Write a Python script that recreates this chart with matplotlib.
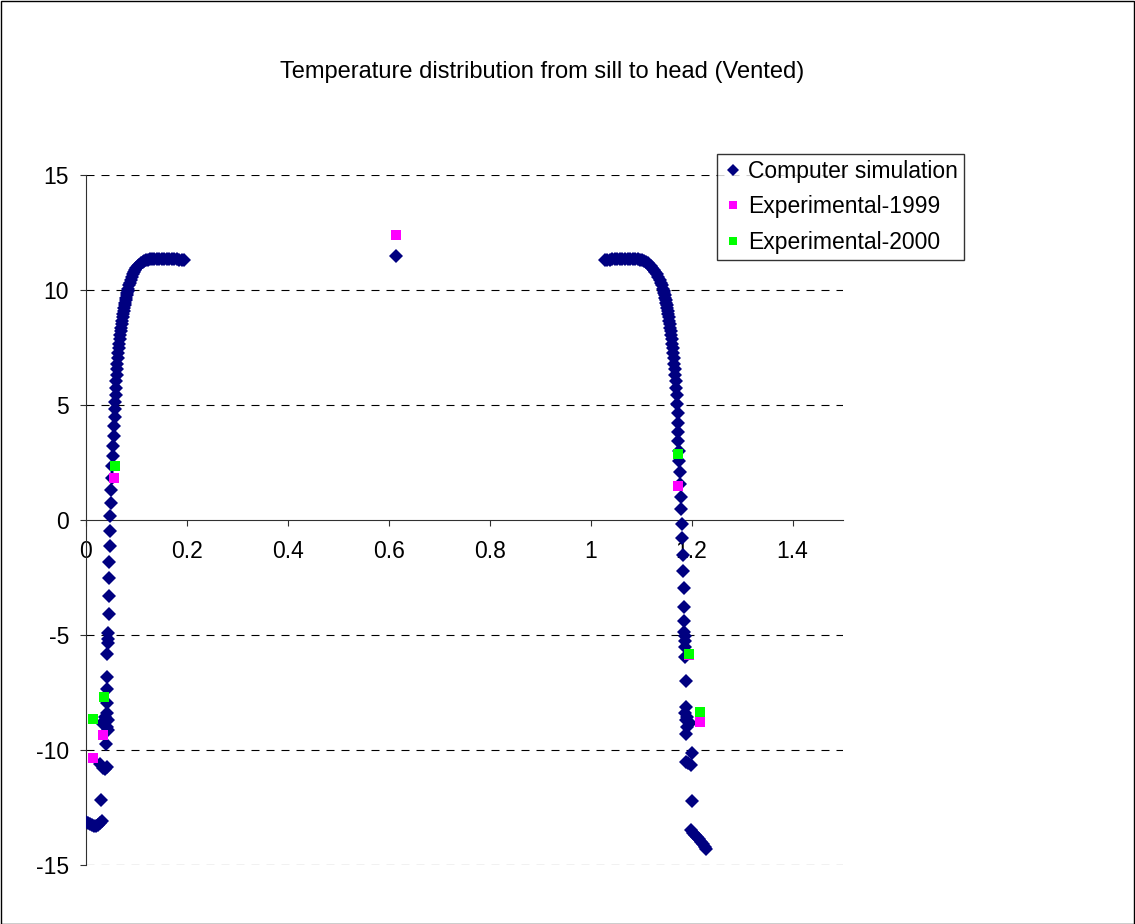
import numpy as np
import matplotlib.pyplot as plt
from matplotlib.patches import Rectangle

plt.rcParams['font.family'] = ['Liberation Sans', 'DejaVu Sans']
plt.rcParams['axes.unicode_minus'] = False

left_x = [0.000, 0.004, 0.008, 0.012, 0.016, 0.020, 0.024, 0.028, 0.031,
          0.029,
          0.028, 0.033, 0.037, 0.041,
          0.040,
          0.031, 0.044, 0.041, 0.044, 0.038, 0.041,
          0.042, 0.041, 0.041, 0.042, 0.044, 0.044, 0.044,
          0.045, 0.045, 0.046, 0.046, 0.047, 0.047, 0.0485, 0.049, 0.050, 0.051,
          0.052, 0.0535, 0.054, 0.055, 0.056, 0.057, 0.0574, 0.058,
          0.0585, 0.059, 0.0595, 0.0605, 0.061, 0.062, 0.063, 0.064, 0.065, 0.066,
          0.067, 0.068, 0.069, 0.070, 0.071, 0.072, 0.073, 0.074, 0.075, 0.076,
          0.077, 0.078, 0.079, 0.080, 0.081, 0.082, 0.083, 0.084, 0.0855, 0.087,
          0.089, 0.091, 0.093, 0.095, 0.097, 0.100, 0.103, 0.106, 0.109, 0.112,
          0.115, 0.119, 0.123, 0.127, 0.131, 0.135, 0.140, 0.145, 0.150, 0.155,
          0.160, 0.165, 0.170, 0.175, 0.180, 0.185, 0.190, 0.195]
left_y = [-13.15, -13.18, -13.22, -13.27, -13.32, -13.30, -13.24, -13.17, -13.10,
          -12.17,
          -10.61, -10.80, -10.82, -10.75,
          -9.74,
          -8.84, -9.13, -8.99, -8.70, -8.55, -8.38,
          -7.96, -7.36, -6.81, -5.83, -5.36, -5.19, -4.93,
          -4.09, -3.30, -2.53, -1.81, -1.12, -0.46, 0.17, 0.72, 1.30, 1.81,
          2.33, 2.78, 3.22, 3.67, 4.09, 4.46, 4.81, 5.14,
          5.45, 5.75, 6.03, 6.30, 6.55, 6.80, 7.03, 7.25, 7.46, 7.66,
          7.85, 8.03, 8.20, 8.36, 8.52, 8.67, 8.81, 8.95, 9.08, 9.21,
          9.33, 9.45, 9.56, 9.67, 9.77, 9.87, 9.97, 10.06, 10.20, 10.32,
          10.45, 10.57, 10.68, 10.78, 10.87, 10.95, 11.03, 11.10, 11.16, 11.21,
          11.25, 11.29, 11.32, 11.34, 11.35, 11.36, 11.36, 11.36, 11.36, 11.36,
          11.36, 11.35, 11.35, 11.34, 11.33, 11.32, 11.31, 11.29]

# single point in the middle
mid_x = [0.614]
mid_y = [11.48]

right_x = [1.028, 1.033, 1.038, 1.043, 1.048, 1.053, 1.058, 1.063, 1.068, 1.073,
           1.078, 1.083, 1.088, 1.093, 1.098, 1.102, 1.106, 1.110, 1.113, 1.116,
           1.119, 1.122, 1.125, 1.128, 1.131, 1.134, 1.137, 1.139, 1.141, 1.143,
           1.145, 1.146, 1.147, 1.148, 1.149, 1.150, 1.151, 1.152, 1.153, 1.154,
           1.155, 1.156, 1.157, 1.158, 1.159, 1.160, 1.161, 1.162, 1.163, 1.164,
           1.165, 1.166, 1.167, 1.168, 1.169, 1.170, 1.171, 1.172, 1.173, 1.173,
           1.174, 1.174, 1.175, 1.176, 1.178, 1.178, 1.179, 1.179, 1.180, 1.180,
           1.183, 1.183, 1.184, 1.185, 1.185, 1.185, 1.186, 1.186, 1.187, 1.186,
           1.188, 1.188, 1.186, 1.190, 1.188, 1.196, 1.190, 1.188,
           1.201, 1.188, 1.193, 1.198, 1.200,
           1.199, 1.203, 1.207, 1.211, 1.215, 1.219, 1.223, 1.226, 1.229]
right_y = [11.29, 11.31, 11.32, 11.33, 11.34, 11.35, 11.35, 11.36, 11.36, 11.36,
           11.36, 11.36, 11.35, 11.34, 11.32, 11.29, 11.25, 11.21, 11.16, 11.10,
           11.03, 10.95, 10.87, 10.78, 10.68, 10.57, 10.45, 10.32, 10.20, 10.06,
           9.97, 9.87, 9.77, 9.67, 9.56, 9.45, 9.33, 9.21, 9.08, 8.95,
           8.81, 8.67, 8.52, 8.36, 8.20, 8.03, 7.85, 7.66, 7.46, 7.25,
           7.03, 6.80, 6.55, 6.30, 6.03, 5.75, 5.45, 5.04, 4.64, 4.23,
           3.84, 3.45, 3.00, 2.55, 2.10, 1.55, 1.01, 0.46, -0.17, -0.80,
           -1.52, -2.20, -2.97, -3.77, -4.39, -4.86, -5.05, -5.25, -5.51, -5.95,
           -6.99, -8.12, -8.41, -8.55, -8.70, -8.84, -9.00, -9.30,
           -10.14, -10.51, -10.58, -10.65, -12.23,
           -13.48, -13.60, -13.68, -13.78, -13.88, -13.98, -14.10, -14.20, -14.30]

exp1999_x = [0.013, 0.034, 0.0554, 0.614, 1.173, 1.195, 1.216]
exp1999_y = [-10.36, -9.35, 1.81, 12.41, 1.49, -5.88, -8.77]

exp2000_x = [0.0145, 0.0356, 0.0574, 1.174, 1.195, 1.216]
exp2000_y = [-8.67, -7.71, 2.35, 2.87, -5.82, -8.36]

x_ticks = [0, 0.2, 0.4, 0.6, 0.8, 1.0, 1.2, 1.4]
x_tick_labels = ['0', '0.2', '0.4', '0.6', '0.8', '1', '1.2', '1.4']
y_ticks = [-15, -10, -5, 0, 5, 10, 15]

sim_x = left_x + mid_x + right_x
sim_y = left_y + mid_y + right_y

fig = plt.figure(figsize=(11.35, 9.24), dpi=100)
ax = fig.add_axes([86 / 1135, 59 / 924, 757 / 1135, 690 / 924])

ax.plot(sim_x, sim_y, linestyle='none', marker='D', ms=6.8, color='#000080',
        mew=0, label='Computer simulation', zorder=3)
ax.plot(exp1999_x, exp1999_y, linestyle='none', marker='s', ms=7.2, color='#FF00FF',
        mew=0, label='Experimental-1999', zorder=4)
ax.plot(exp2000_x, exp2000_y, linestyle='none', marker='s', ms=7.2, color='#00FF00',
        mew=0, label='Experimental-2000', zorder=5)

ax.set_xlim(0, 1.5)
ax.set_ylim(-15, 15)
ax.spines['bottom'].set_position(('data', 0))
ax.spines['top'].set_visible(False)
ax.spines['right'].set_visible(False)
for s in ['left', 'bottom']:
    ax.spines[s].set_linewidth(0.8)
    ax.spines[s].set_color('#303030')

ax.set_xticks(x_ticks)
ax.set_xticklabels(x_tick_labels)
ax.set_yticks(y_ticks)
for y in y_ticks:
    if y != 0:
        ax.axhline(y, color='black', lw=0.8, ls=(0, (7.2, 6.3)), zorder=1)

ax.tick_params(direction='out', length=4.3, width=0.8, labelsize=16.5, color='#303030')
ax.tick_params(axis='x', pad=10)
ax.tick_params(axis='y', pad=8)

fig.text(542 / 1135, 1 - 72 / 924, 'Temperature distribution from sill to head (Vented)',
         ha='center', va='center', fontsize=17)

leg = ax.legend(loc='upper left', bbox_to_anchor=(717 / 1135, 1 - 154 / 924),
                bbox_transform=fig.transFigure, frameon=True, fancybox=False,
                edgecolor='black', fontsize=16.5, handletextpad=0.2, borderpad=0.25,
                labelspacing=0.55, handlelength=0.9, borderaxespad=0, markerscale=0.85)
leg.get_frame().set_linewidth(1.0)

fig.add_artist(Rectangle((0.0005, 0.0005), 0.999, 0.998, transform=fig.transFigure,
                         fill=False, edgecolor='black', lw=1))

plt.savefig('out.png', dpi=100)
plt.close()
